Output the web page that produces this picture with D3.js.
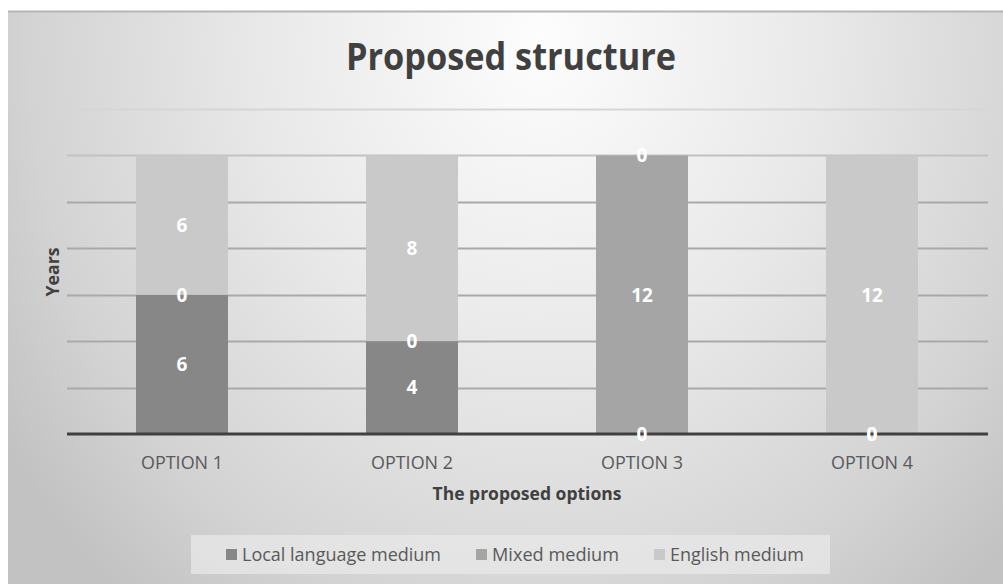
<!DOCTYPE html>
<html>
<head>
<meta charset="utf-8">
<script src="https://cdn.jsdelivr.net/npm/d3@7"></script>
<style>
  html, body { margin: 0; padding: 0; background: #ffffff; }
  svg { display: block; }
  text { font-family: "Open Sans", "Noto Sans", sans-serif; }
</style>
</head>
<body>
<svg id="chart" width="1003" height="584"></svg>
<script>
const categories = ["OPTION 1", "OPTION 2", "OPTION 3", "OPTION 4"];
const seriesNames = ["Local language medium", "Mixed medium", "English medium"];
const localValues = [6, 4, 0, 0];
const mixedValues = [0, 0, 12, 0];
const englishValues = [6, 8, 0, 12];
const yTicks = [0, 2, 4, 6, 8, 10, 12, 14];
const seriesColors = ["#878787", "#a5a5a5", "#c9c9c9"];

const svg = d3.select("#chart");
const W = 1003, H = 584;

// background gradient
const defs = svg.append("defs");
const grad = defs.append("radialGradient")
  .attr("id", "bg").attr("gradientUnits", "userSpaceOnUse")
  .attr("cx", 540).attr("cy", 40).attr("r", 640)
  .attr("gradientTransform", "translate(540,40) scale(1,1.15) translate(-540,-40)");
grad.append("stop").attr("offset", 0).attr("stop-color", "#fdfdfd");
grad.append("stop").attr("offset", 0.45).attr("stop-color", "#e8e8e8");
grad.append("stop").attr("offset", 0.8).attr("stop-color", "#d3d3d3");
grad.append("stop").attr("offset", 1).attr("stop-color", "#c2c2c2");

svg.append("rect").attr("x", 8).attr("y", 11).attr("width", W - 8).attr("height", H - 11)
  .attr("fill", "url(#bg)");
svg.append("line").attr("x1", 8).attr("x2", W).attr("y1", 11.5).attr("y2", 11.5)
  .attr("stroke", "#b5b5b5").attr("stroke-width", 2);

// scales
const x = d3.scaleBand().domain(categories).range([67, 987]).paddingInner(0.6).paddingOuter(0.3);
const y = d3.scaleLinear().domain([0, 14]).range([434, 109]);

// gridlines
const gridColor = v => v === 14 ? "#d6d6d6" : (v === 12 ? "#c2c2c2" : "#a9a9a9");
svg.append("g").selectAll("line").data(yTicks.filter(v => v > 0)).join("line")
  .attr("x1", 67).attr("x2", 988)
  .attr("y1", d => Math.round(y(d)) + 0.5).attr("y2", d => Math.round(y(d)) + 0.5)
  .attr("stroke", d => gridColor(d)).attr("stroke-width", 2);

// stacked data
const rows = categories.map((c, i) => ({
  cat: c, local: localValues[i], mixed: mixedValues[i], english: englishValues[i]
}));
const keys = ["local", "mixed", "english"];
const stacked = d3.stack().keys(keys)(rows);

const gBars = svg.append("g");
stacked.forEach((layer, li) => {
  gBars.append("g").attr("fill", seriesColors[li]).selectAll("rect").data(layer).join("rect")
    .attr("x", d => x(d.data.cat))
    .attr("width", x.bandwidth())
    .attr("y", d => y(d[1]))
    .attr("height", d => y(d[0]) - y(d[1]));
});

// baseline axis
svg.append("line").attr("x1", 67).attr("x2", 988).attr("y1", y(0)).attr("y2", y(0))
  .attr("stroke", "#404040").attr("stroke-width", 3);

// data labels
const gLabels = svg.append("g");
stacked.forEach((layer, li) => {
  gLabels.append("g").selectAll("text").data(layer).join("text")
    .attr("x", d => x(d.data.cat) + x.bandwidth() / 2)
    .attr("y", d => (y(d[0]) + y(d[1])) / 2)
    .attr("dy", "0.36em")
    .attr("text-anchor", "middle")
    .attr("font-size", 19).attr("font-weight", 700)
    .attr("fill", "#ffffff")
    .text(d => d[1] - d[0]);
});

// x axis labels
svg.append("g").selectAll("text").data(categories).join("text")
  .attr("x", d => x(d) + x.bandwidth() / 2)
  .attr("y", 469)
  .attr("text-anchor", "middle")
  .attr("font-size", 18).attr("fill", "#595959")
  .attr("textLength", 82).attr("lengthAdjust", "spacingAndGlyphs")
  .text(d => d);

// title
svg.append("text").attr("x", 511).attr("y", 70).attr("text-anchor", "middle")
  .attr("font-size", 38).attr("font-weight", 700).attr("fill", "#404040")
  .attr("textLength", 330).attr("lengthAdjust", "spacingAndGlyphs")
  .text("Proposed structure");

// axis titles
svg.append("text").attr("x", 527).attr("y", 500).attr("text-anchor", "middle")
  .attr("font-size", 18).attr("font-weight", 700).attr("fill", "#404040")
  .attr("textLength", 189).attr("lengthAdjust", "spacingAndGlyphs")
  .text("The proposed options");

svg.append("text").attr("transform", "translate(59,272) rotate(-90)")
  .attr("text-anchor", "middle")
  .attr("font-size", 18).attr("font-weight", 700).attr("fill", "#404040")
  .attr("textLength", 49).attr("lengthAdjust", "spacingAndGlyphs")
  .text("Years");

// legend
svg.append("rect").attr("x", 191).attr("y", 535).attr("width", 639).attr("height", 39)
  .attr("fill", "#e8e8e8").attr("fill-opacity", 0.75);
const legendX = [226, 476, 654];
const legendW = [199, 127, 134];
const lg = svg.append("g").selectAll("g").data(seriesNames).join("g");
lg.append("rect").attr("x", (d, i) => legendX[i]).attr("y", 549).attr("width", 11).attr("height", 11)
  .attr("fill", (d, i) => seriesColors[i]);
lg.append("text").attr("x", (d, i) => legendX[i] + 16).attr("y", 561)
  .attr("font-size", 18).attr("fill", "#595959")
  .attr("textLength", (d, i) => legendW[i]).attr("lengthAdjust", "spacingAndGlyphs")
  .text(d => d);
</script>
</body>
</html>
